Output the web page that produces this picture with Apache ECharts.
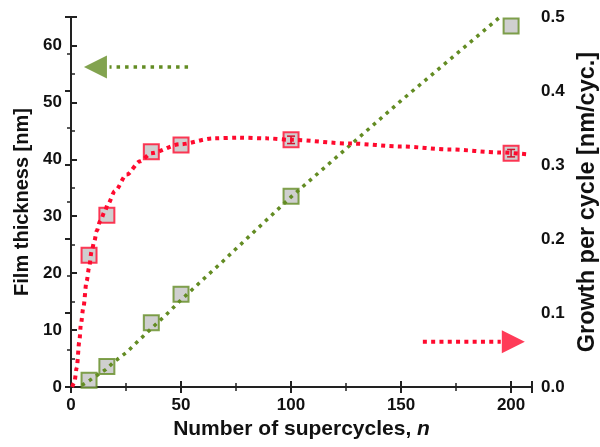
<!DOCTYPE html>
<html>
<head>
<meta charset="utf-8">
<script src="https://cdn.jsdelivr.net/npm/echarts@6/dist/echarts.min.js"></script>
<style>
  html, body { margin: 0; padding: 0; background: #fff; }
  #chart { width: 600px; height: 447px; }
</style>
</head>
<body>
<div id="chart"></div>
<script>
// measured points
var cycles = [8.2, 16.3, 36.5, 50, 100, 200];
var thickness = [1.2, 3.6, 11.3, 16.3, 33.5, 63.4];   // nm, left axis
var growth = [0.178, 0.232, 0.318, 0.327, 0.334, 0.316]; // nm/cyc, right axis
var growthErr = [0, 0, 0, 0, 0.005, 0.005];

// fit curves
var thickFitN = [4.9, 8.6, 12.4, 15.9, 19.2, 25.3, 31.4, 37.4, 43.5, 49.5, 55.6, 61.7, 67.7, 74.5, 100, 150, 195];
var thickFit = [0.3, 1.2, 2.2, 3.1, 4.3, 6.1, 8.4, 10.6, 12.8, 15.1, 17.3, 19.5, 21.6, 24.1, 33.4, 50.3, 65.0];
var growthFitN = [0.5, 1.5, 2.6, 3.8, 4.5, 5.6, 7.1, 8.2, 9.4, 10.6, 11.7, 13.2, 15.5, 16.7, 20, 25.3, 31.4, 36.5, 49.5, 64.7, 76, 89, 100, 127, 150, 172, 195, 207];
var growthFit = [0, 0.006, 0.026, 0.062, 0.085, 0.107, 0.143, 0.161, 0.184, 0.197, 0.211, 0.224, 0.238, 0.247, 0.265, 0.287, 0.305, 0.316, 0.328, 0.336, 0.337, 0.336, 0.334, 0.329, 0.325, 0.321, 0.317, 0.3145];

// arrows (data coords): [x from, x to], y, triangle centre x
var greenArrowX = [17.5, 53.2], greenArrowY = 56.2, greenHeadX = 11.1;
var redArrowX = [159.9, 195.3], redArrowY = 0.061, redHeadX = 201;

var GREEN = '#638c23';
var RED = '#ff0a2e';
var FONT = '"Liberation Sans", Arial, sans-serif';

function pairs(xs, ys) {
  var out = [];
  for (var i = 0; i < xs.length; i++) out.push([xs[i], ys[i]]);
  return out;
}

// fresh style objects for each axis
function axisLine() { return { lineStyle: { color: '#222', width: 2 } }; }
function axisTick() { return { inside: true, length: 6, lineStyle: { color: '#222', width: 2 } }; }
function minorTick() { return { show: true, splitNumber: 2, length: 4, lineStyle: { color: '#222', width: 1.5 } }; }
function label(extra) {
  var l = { fontFamily: FONT, fontWeight: 'bold', fontSize: 17, color: '#111' };
  for (var k in extra) l[k] = extra[k];
  return l;
}

// error bars for the growth points
var errData = [];
for (var i = 0; i < cycles.length; i++) {
  if (growthErr[i] > 0) errData.push([cycles[i], growth[i] - growthErr[i], growth[i] + growthErr[i]]);
}
function renderErr(params, api) {
  var lo = api.coord([api.value(0), api.value(1)]);
  var hi = api.coord([api.value(0), api.value(2)]);
  var w = 4;
  var st = { stroke: '#d0102a', lineWidth: 1.5 };
  return {
    type: 'group',
    children: [
      { type: 'line', shape: { x1: hi[0], y1: hi[1], x2: lo[0], y2: lo[1] }, style: st },
      { type: 'line', shape: { x1: hi[0] - w, y1: hi[1], x2: hi[0] + w, y2: hi[1] }, style: st },
      { type: 'line', shape: { x1: lo[0] - w, y1: lo[1], x2: lo[0] + w, y2: lo[1] }, style: st }
    ]
  };
}

var chart = echarts.init(document.getElementById('chart'));

var option = {
  backgroundColor: '#fff',
  animation: false,
  grid: { left: 71, right: 68, top: 17, bottom: 60, outerBoundsMode: 'none', containLabel: false },
  xAxis: [{
    type: 'value', min: 0, max: 209.5, interval: 50,
    axisLine: axisLine(), axisTick: axisTick(), minorTick: minorTick(),
    splitLine: { show: false },
    axisLabel: label({ margin: 10, showMaxLabel: false }),
    name: 'Number of supercycles, {i|n}',
    nameLocation: 'middle', nameGap: 29,
    nameTextStyle: {
      fontFamily: FONT, fontWeight: 'bold', fontSize: 21, color: '#111',
      rich: { i: { fontFamily: FONT, fontWeight: 'bold', fontStyle: 'italic', fontSize: 21, color: '#111' } }
    }
  }, {
    type: 'value', position: 'top', min: 0, max: 209.5, interval: 50,
    axisLine: axisLine(), axisTick: axisTick(), minorTick: minorTick(),
    splitLine: { show: false }, axisLabel: { show: false }
  }],
  yAxis: [{
    type: 'value', min: 0, max: 65, interval: 10,
    axisLine: axisLine(), axisTick: axisTick(), minorTick: minorTick(),
    splitLine: { show: false },
    axisLabel: label({ margin: 9, showMaxLabel: false }),
    name: 'Film thickness [nm]',
    nameLocation: 'middle', nameGap: 29, nameRotate: 90,
    nameTextStyle: { fontFamily: FONT, fontWeight: 'bold', fontSize: 20, color: '#111' }
  }, {
    type: 'value', position: 'right', min: 0, max: 0.5, interval: 0.1,
    axisLine: axisLine(), axisTick: axisTick(), minorTick: minorTick(),
    splitLine: { show: false },
    axisLabel: label({ margin: 9, formatter: function (v) { return v.toFixed(1); } }),
    name: 'Growth per cycle [nm/cyc.]',
    nameLocation: 'middle', nameGap: 40, nameRotate: 90,
    nameTextStyle: { fontFamily: FONT, fontWeight: 'bold', fontSize: 23.5, color: '#111' }
  }],
  series: [
    {
      type: 'scatter', xAxisIndex: 0, yAxisIndex: 0, z: 2,
      symbol: 'rect', symbolSize: 15,
      itemStyle: { color: '#c3c3c3', borderColor: GREEN, borderWidth: 2 },
      data: pairs(cycles, thickness)
    },
    {
      type: 'scatter', xAxisIndex: 0, yAxisIndex: 1, z: 2,
      symbol: 'rect', symbolSize: 15,
      itemStyle: { color: '#c3c3c3', borderColor: RED, borderWidth: 2 },
      data: pairs(cycles, growth)
    },
    {
      type: 'custom', xAxisIndex: 0, yAxisIndex: 1, z: 2.5,
      renderItem: renderErr,
      data: errData
    },
    {
      type: 'line', xAxisIndex: 0, yAxisIndex: 0, z: 3,
      symbol: 'none', smooth: false,
      lineStyle: { color: GREEN, width: 3.5, type: [3.5, 5], cap: 'butt' },
      data: pairs(thickFitN, thickFit)
    },
    {
      type: 'line', xAxisIndex: 0, yAxisIndex: 1, z: 3,
      symbol: 'none', smooth: 0.3, smoothMonotone: 'x',
      lineStyle: { color: RED, width: 4, type: [4, 4.3], cap: 'butt' },
      data: pairs(growthFitN, growthFit)
    },
    // arrows
    {
      type: 'line', xAxisIndex: 0, yAxisIndex: 0, symbol: 'none',
      lineStyle: { color: GREEN, width: 3.5, type: [3.5, 5], cap: 'butt' },
      data: [[greenArrowX[1], greenArrowY], [greenArrowX[0], greenArrowY]]
    },
    {
      type: 'scatter', xAxisIndex: 0, yAxisIndex: 0,
      symbol: 'triangle', symbolRotate: 90, symbolSize: [23, 23],
      itemStyle: { color: GREEN },
      data: [[greenHeadX, greenArrowY]]
    },
    {
      type: 'line', xAxisIndex: 0, yAxisIndex: 1, symbol: 'none',
      lineStyle: { color: RED, width: 4, type: [4, 4.3], cap: 'butt' },
      data: [[redArrowX[0], redArrowY], [redArrowX[1], redArrowY]]
    },
    {
      type: 'scatter', xAxisIndex: 0, yAxisIndex: 1,
      symbol: 'triangle', symbolRotate: -90, symbolSize: [23, 23],
      itemStyle: { color: RED },
      data: [[redHeadX, redArrowY]]
    }
  ]
};

chart.setOption(option);
</script>
</body>
</html>
